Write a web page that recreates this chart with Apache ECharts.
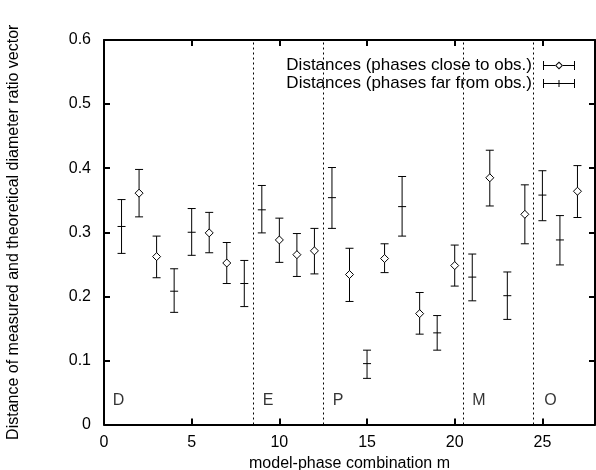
<!DOCTYPE html>
<html>
<head>
<meta charset="utf-8">
<script src="https://cdn.jsdelivr.net/npm/echarts@6/dist/echarts.min.js"></script>
<style>
  html, body { margin: 0; padding: 0; background: #fff; }
  #main { width: 596px; height: 470px; }
</style>
</head>
<body>
<div id="main"></div>
<script>
// [m, distance, lower, upper]
var closeData = [
    [2, 0.361, 0.324, 0.398],
    [3, 0.262, 0.229, 0.294],
    [6, 0.299, 0.268, 0.331],
    [7, 0.252, 0.220, 0.284],
    [10, 0.288, 0.253, 0.322],
    [11, 0.265, 0.231, 0.298],
    [12, 0.271, 0.235, 0.306],
    [14, 0.234, 0.192, 0.275],
    [16, 0.259, 0.237, 0.282],
    [18, 0.173, 0.141, 0.206],
    [20, 0.248, 0.216, 0.280],
    [22, 0.385, 0.341, 0.428],
    [24, 0.328, 0.282, 0.374],
    [27, 0.364, 0.323, 0.404]
];
var farData = [
    [1, 0.309, 0.267, 0.351],
    [4, 0.208, 0.175, 0.243],
    [5, 0.300, 0.264, 0.337],
    [8, 0.220, 0.184, 0.256],
    [9, 0.335, 0.299, 0.373],
    [13, 0.354, 0.306, 0.401],
    [15, 0.095, 0.072, 0.116],
    [17, 0.340, 0.294, 0.387],
    [19, 0.143, 0.116, 0.170],
    [21, 0.230, 0.193, 0.266],
    [23, 0.201, 0.164, 0.238],
    [25, 0.358, 0.318, 0.396],
    [26, 0.288, 0.249, 0.326]
];
var regionNames = ['D', 'E', 'P', 'M', 'O'];
var regionStart = [0.5, 9.05, 13.05, 21.0, 25.1];
var boundaries = [8.5, 12.5, 20.5, 24.5];

var font = '"Liberation Sans", Arial, Helvetica, sans-serif';

var myChart = echarts.init(document.getElementById('main'));

function makeRender(kind) {
    return function (params, api) {
        var x = api.value(0);
        var c = api.coord([x, api.value(1)]);
        var lo = api.coord([x, api.value(2)]);
        var hi = api.coord([x, api.value(3)]);
        var cap = 4;
        var st = { stroke: '#000', lineWidth: 1 };
        var kids = [
            { type: 'line', shape: { x1: c[0], y1: lo[1], x2: c[0], y2: hi[1] }, style: st },
            { type: 'line', shape: { x1: c[0] - cap, y1: lo[1], x2: c[0] + cap, y2: lo[1] }, style: st },
            { type: 'line', shape: { x1: c[0] - cap, y1: hi[1], x2: c[0] + cap, y2: hi[1] }, style: st }
        ];
        if (kind === 'diamond') {
            kids.push({
                type: 'polygon',
                shape: { points: [[c[0], c[1] - 4], [c[0] + 4, c[1]], [c[0], c[1] + 4], [c[0] - 4, c[1]]] },
                style: { fill: '#fff', stroke: '#000', lineWidth: 1 }
            });
        } else {
            kids.push({ type: 'line', shape: { x1: c[0] - 4, y1: c[1], x2: c[0] + 4, y2: c[1] }, style: st });
        }
        return { type: 'group', children: kids };
    };
}

// legend icons: horizontal error bar with marker
var iconClose = 'path://M0 0H1V9H0ZM31 0H32V9H31ZM0 4H12V5H0ZM20 4H32V5H20Z' +
    'M16 0.5L20 4.5L16 8.5L12 4.5ZM16 1.9L13.4 4.5L16 7.1L18.6 4.5Z';
var iconFar = 'path://M0 0H1V9H0ZM31 0H32V9H31ZM0 4H32V5H0ZM15.5 1H16.5V8H15.5Z';

var axisBase = {
    type: 'value',
    axisLine: { show: true, onZero: false, lineStyle: { color: '#000', width: 2 } },
    axisTick: { show: true, inside: true, length: 6, lineStyle: { color: '#000', width: 2 } },
    splitLine: { show: false }
};

var option = {
    backgroundColor: '#fff',
    animation: false,
    textStyle: { fontFamily: font },
    grid: {
        left: 104, top: 40, width: 491, height: 384.5,
        containLabel: false, outerBoundsMode: 'none'
    },
    legend: {
        orient: 'vertical',
        right: 16,
        top: 52,
        align: 'right',
        itemWidth: 32,
        itemHeight: 9,
        itemGap: 1,
        selectedMode: false,
        itemStyle: { color: '#000', borderWidth: 0 },
        textStyle: { color: '#000', fontSize: 17, fontFamily: font, padding: [0, 6, 0, 0] },
        data: [
            { name: 'Distances (phases close to obs.)', icon: iconClose },
            { name: 'Distances (phases far from obs.)', icon: iconFar }
        ]
    },
    xAxis: [
        Object.assign({}, axisBase, {
            min: 0, max: 28, interval: 5, position: 'bottom',
            name: 'model-phase combination m',
            nameLocation: 'middle',
            nameGap: 27,
            nameTextStyle: { color: '#000', fontSize: 16, fontFamily: font },
            axisLabel: { color: '#000', fontSize: 16, margin: 10, fontFamily: font, showMaxLabel: false }
        }),
        Object.assign({}, axisBase, {
            min: 0, max: 28, interval: 5, position: 'top',
            axisLabel: { show: false }
        })
    ],
    yAxis: [
        Object.assign({}, axisBase, {
            min: 0, max: 0.6, interval: 0.1, position: 'left',
            name: 'Distance of measured and theoretical diameter ratio vector',
            nameLocation: 'middle',
            nameGap: 82,
            nameTextStyle: { color: '#000', fontSize: 16, fontFamily: font },
            axisLabel: {
                color: '#000', fontSize: 16, margin: 13, fontFamily: font,
                formatter: function (v) { return v === 0 ? '0' : v.toFixed(1); }
            }
        }),
        Object.assign({}, axisBase, {
            min: 0, max: 0.6, interval: 0.1, position: 'right',
            axisLabel: { show: false }
        })
    ],
    series: [
        {
            name: 'regions',
            type: 'scatter',
            silent: true,
            symbolSize: 0,
            itemStyle: { color: 'rgba(0,0,0,0)' },
            data: regionNames.map(function (n, i) { return [regionStart[i], 0.038, n]; }),
            label: {
                show: true, position: 'right', distance: 0,
                color: '#000', fontSize: 16, fontFamily: font,
                formatter: function (p) { return p.data[2]; }
            },
            markLine: {
                silent: true,
                symbol: 'none',
                label: { show: false },
                lineStyle: { color: '#000', type: [2, 3], width: 1 },
                data: boundaries.map(function (b) { return { xAxis: b }; })
            }
        },
        {
            name: 'Distances (phases close to obs.)',
            type: 'custom',
            renderItem: makeRender('diamond'),
            itemStyle: { color: '#000' },
            encode: { x: 0, y: [1, 2, 3] },
            data: closeData,
            z: 5
        },
        {
            name: 'Distances (phases far from obs.)',
            type: 'custom',
            renderItem: makeRender('plus'),
            itemStyle: { color: '#000' },
            encode: { x: 0, y: [1, 2, 3] },
            data: farData,
            z: 5
        }
    ]
};

myChart.setOption(option);
</script>
</body>
</html>
